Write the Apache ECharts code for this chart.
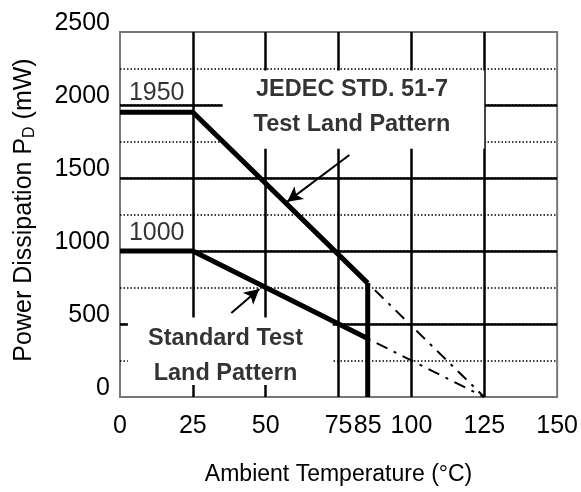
<!DOCTYPE html>
<html><head><meta charset="utf-8">
<script src="https://cdn.jsdelivr.net/npm/echarts@6/dist/echarts.min.js"></script>
<style>html,body{margin:0;padding:0;background:#fff}#c{width:581px;height:492px}</style>
</head><body><div id="c"></div>
<script>
// ---- data ----
const xTickLabels = [0, 25, 50, 75, 85, 100, 125, 150];
const yTickLabels = [0, 500, 1000, 1500, 2000, 2500];
const jedecTemp = [0, 25, 85];
const jedecPower = [1950, 1950, 780];
const stdTemp = [0, 25, 85];
const stdPower = [1000, 1000, 400];
const extTemp = [85, 125];
const jedecExtPower = [780, 0];
const stdExtPower = [400, 0];
const cutoffTemp = [85, 85];
const cutoffPower = [780, 0];
const ratedLabels = ['1950', '1000'];
const ratedValues = [1950, 1000];

const zip = (xs, ys) => xs.map((x, i) => [x, ys[i]]);
const FONT = '"Liberation Sans", Arial, sans-serif';

const chart = echarts.init(document.getElementById('c'), null, {renderer: 'canvas'});
const thick = {color: '#000', width: 5};
const dashDot = {color: '#000', width: 2, type: [3, 7, 12, 7]};

chart.setOption({
  animation: false,
  backgroundColor: '#fff',
  textStyle: {fontFamily: FONT, color: '#000'},
  grid: {left: 120, right: 22, top: 32, bottom: 95, show: true, borderColor: '#777', borderWidth: 2, backgroundColor: 'transparent'},
  xAxis: [{
    type: 'value', min: 0, max: 150, interval: 25,
    axisLine: {show: false}, axisTick: {show: false},
    axisLabel: {customValues: xTickLabels, fontSize: 25, color: '#000', margin: 17, fontFamily: FONT, formatter: v => String(v)},
    splitLine: {show: true, showMinLine: false, showMaxLine: false, lineStyle: {color: '#000', width: 2.5}},
    name: 'Ambient Temperature (°C)', nameLocation: 'middle', nameGap: 66,
    nameTextStyle: {fontSize: 23, color: '#000', fontFamily: FONT}
  }],
  yAxis: [{
    type: 'value', min: 0, max: 2500, interval: 500,
    axisLine: {show: false}, axisTick: {show: false},
    axisLabel: {customValues: yTickLabels, fontSize: 25, color: '#000', margin: 10, verticalAlign: 'bottom', lineHeight: 18, fontFamily: FONT, formatter: v => String(v)},
    splitLine: {show: true, showMinLine: false, showMaxLine: false, lineStyle: {color: '#000', width: 2.5}},
    name: 'Power Dissipation P{sub|D} (mW)', nameLocation: 'middle', nameGap: 82,
    nameTextStyle: {fontSize: 25, color: '#000', fontFamily: FONT, lineHeight: 28, padding: [0, 0, 0, 9],
      rich: {sub: {fontSize: 16, lineHeight: 16, verticalAlign: 'bottom', color: '#000', fontFamily: FONT}}}
  }, {
    type: 'value', min: 0, max: 2500, interval: 250, position: 'left',
    axisLine: {show: false}, axisTick: {show: false}, axisLabel: {show: false},
    splitLine: {show: true, showMinLine: false, showMaxLine: false, lineStyle: {color: '#000', width: 1.5, type: [1.5, 2]}}
  }],
  series: [
    { // white label boxes that break the grid lines
      type: 'line', z: 1, data: [], symbol: 'none',
      markArea: {silent: true, itemStyle: {color: '#fff'}, data: [
        [{coord: [35.2, 2236]}, {coord: [125, 1700]}],
        [{coord: [2.7, 545]}, {coord: [73, 82]}]
      ]}
    },
    {name: 'JEDEC', type: 'line', z: 3, symbol: 'none', lineStyle: thick, data: zip(jedecTemp, jedecPower)},
    {name: 'Standard', type: 'line', z: 3, symbol: 'none', lineStyle: thick, data: zip(stdTemp, stdPower)},
    {name: 'Cutoff', type: 'line', z: 3, symbol: 'none', lineStyle: thick, data: zip(cutoffTemp, cutoffPower)},
    {name: 'JEDEC derating', type: 'line', z: 3, symbol: 'none', lineStyle: dashDot, data: zip(extTemp, jedecExtPower)},
    {name: 'Standard derating', type: 'line', z: 3, symbol: 'none', lineStyle: dashDot, data: zip(extTemp, stdExtPower),
      markLine: {silent: true, symbol: ['none', 'arrow'], symbolSize: [12, 15], label: {show: false},
        lineStyle: {color: '#000', width: 2, type: 'solid'},
        data: [
          [{coord: [78.7, 1658]}, {coord: [57.4, 1338]}],
          [{coord: [38.2, 575]}, {coord: [47.8, 740]}]
        ]}
    },
    { // annotations
      type: 'scatter', z: 4, symbolSize: 0, silent: true,
      label: {show: true, position: 'inside', color: '#000', fontFamily: FONT, formatter: '{b}'},
      data: [
        {name: ratedLabels[0], value: [12.6, ratedValues[0] + 130], label: {fontSize: 25}},
        {name: ratedLabels[1], value: [12.6, ratedValues[1] + 125], label: {fontSize: 25}},
        {name: 'JEDEC STD. 51-7\nTest Land Pattern', value: [79.6, 1983], label: {fontSize: 23.5, fontWeight: 'bold', lineHeight: 35, align: 'center'}},
        {name: 'Standard Test\nLand Pattern', value: [36.2, 284], label: {fontSize: 23.5, fontWeight: 'bold', lineHeight: 35, align: 'center'}}
      ]
    }
  ]
});
</script></body></html>
